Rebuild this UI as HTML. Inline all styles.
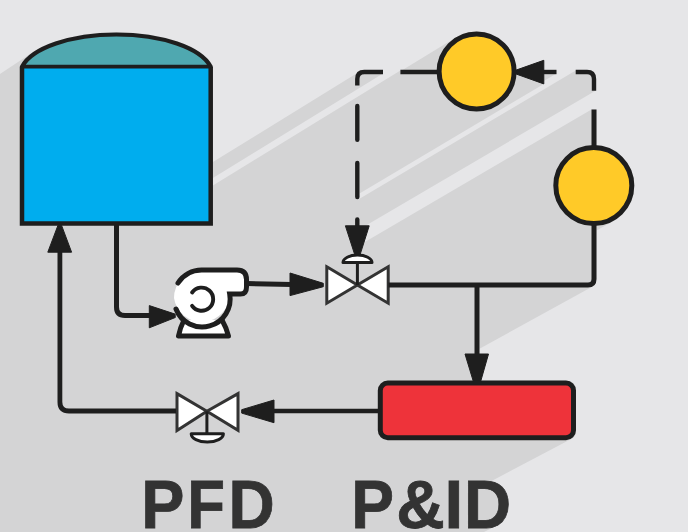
<!DOCTYPE html>
<html><head><meta charset="utf-8"><style>
html,body{margin:0;padding:0;width:688px;height:532px;overflow:hidden;background:#e6e6e8;}
svg{position:absolute;left:0;top:0;}
</style></head><body>
<svg width="688" height="532" viewBox="0 0 688 532">
<rect width="688" height="532" fill="#e6e6e8"/>
<path d="M120.5 32.3 L112.2 32.3 L108.1 32.4 L100.0 32.8 L91.9 33.6 L84.0 34.6 L76.3 35.9 L72.6 36.7 L65.4 38.4 L58.5 40.4 L52.0 42.6 L48.9 43.8 L43.1 46.3 L40.4 47.7 L37.8 49.1 L35.4 50.6 L33.1 52.1 L-5.0 77.3 L-5.0 537.0 L474.3 537.0 L490.0 528.9 L503.0 522.0 L508.8 505.0 L503.0 487.0 L491.1 481.2 L571.2 439.1 L572.7 438.2 L573.7 437.2 L574.5 436.2 L575.3 434.6 L575.8 433.0 L576.0 431.6 L576.0 389.5 L575.9 388.2 L575.6 386.9 L575.1 385.7 L574.5 384.5 L573.4 383.1 L572.0 382.0 L570.8 381.4 L569.2 380.8 L567.9 380.5 L480.9 380.5 L488.5 354.0 L479.5 354.0 L479.5 348.8 L592.6 286.5 L593.4 286.0 L594.1 285.4 L594.9 284.6 L595.6 283.5 L596.0 282.3 L596.3 281.2 L596.5 279.1 L596.5 230.5 L614.0 220.7 L616.3 219.3 L619.0 217.3 L622.0 214.7 L624.7 211.8 L627.1 208.6 L628.2 207.0 L629.5 204.7 L630.7 202.3 L631.5 200.5 L632.2 198.6 L632.9 196.1 L633.4 194.2 L633.9 191.5 L634.1 189.6 L634.3 186.9 L634.3 184.3 L634.1 181.6 L633.9 179.7 L633.4 177.0 L632.7 174.5 L632.2 172.6 L631.5 170.7 L630.4 168.3 L629.2 165.9 L627.8 163.7 L626.3 161.5 L624.7 159.4 L622.9 157.4 L621.0 155.6 L619.0 153.9 L616.8 152.3 L614.6 150.9 L612.3 149.6 L609.9 148.4 L607.4 147.5 L604.9 146.7 L602.4 146.0 L599.7 145.5 L596.5 145.2 L596.5 109.5 L591.5 109.5 L364.0 242.4 L369.2 225.8 L365.5 225.8 L595.5 90.7 L595.4 77.8 L595.3 76.5 L594.9 75.4 L594.6 74.4 L593.9 73.4 L593.2 72.6 L592.5 72.0 L591.7 71.5 L590.6 71.1 L589.4 70.7 L588.2 70.6 L587.0 70.5 L575.7 70.5 L359.5 198.8 L359.5 193.4 L543.8 83.9 L543.8 81.1 L556.5 73.5 L556.5 70.5 L543.8 70.5 L543.8 60.3 L516.6 70.0 L516.4 67.6 L516.1 65.0 L515.7 63.1 L515.1 60.5 L514.5 58.6 L513.6 56.2 L512.8 54.4 L511.6 52.1 L510.2 49.8 L509.1 48.2 L507.9 46.6 L506.2 44.6 L504.9 43.2 L503.0 41.4 L501.5 40.2 L499.4 38.6 L497.2 37.2 L494.9 35.9 L492.5 34.8 L490.7 34.1 L488.8 33.4 L486.3 32.7 L483.8 32.1 L481.8 31.8 L479.2 31.6 L477.3 31.5 L475.3 31.5 L472.7 31.7 L470.1 32.0 L468.2 32.4 L466.2 32.9 L463.7 33.6 L460.1 35.1 L456.6 36.9 L401.7 70.5 L400.4 70.5 L212.9 185.5 L212.9 178.0 L383.0 73.5 L383.0 70.5 L364.2 70.5 L363.0 70.6 L361.8 70.7 L360.7 71.1 L359.7 71.4 L212.9 162.1 L212.9 66.8 L212.9 66.3 L212.7 65.7 L211.6 63.8 L210.4 62.2 L209.0 60.3 L207.4 58.5 L205.7 56.9 L203.8 55.2 L201.8 53.6 L199.6 52.1 L197.4 50.6 L194.9 49.1 L192.3 47.7 L189.6 46.3 L183.8 43.8 L177.5 41.4 L170.8 39.3 L163.8 37.5 L160.1 36.7 L152.6 35.2 L144.8 34.1 L136.8 33.2 L128.7 32.6ZM32.6 52.4 L32.6 52.4 L32.6 52.4Z" fill="#d4d4d5" fill-rule="evenodd"/>
<path d="M22 66.8 A96.67 41.30 0 0 1 210.7 66.8 Z" fill="#4fa8b0" stroke="#1e1e1e" stroke-width="4.2" stroke-linejoin="round"/>
<rect x="22" y="66.8" width="188.7" height="156.7" fill="#00adee"/>
<path d="M22 66.8 L22 223.5 L210.7 223.5 L210.7 66.8" fill="none" stroke="#1e1e1e" stroke-width="4.5" stroke-linejoin="miter"/>
<path d="M22 66.8 L210.7 66.8" fill="none" stroke="#1e1e1e" stroke-width="3.6"/>
<path d="M116.5 223.5 L116.5 307 Q116.5 315.5 125 315.5 L152 315.5" fill="none" stroke="#1e1e1e" stroke-width="5" stroke-linecap="butt" stroke-linejoin="round"/>
<path d="M149.3 305.6 L175.1 314.1 L175.3 317.5 L149.3 327.8 Z" fill="#1e1e1e" stroke="#1e1e1e" stroke-width="1" stroke-linejoin="round"/>
<path d="M184 320 Q180 328 178.5 336 L228.5 336 Q226.5 328 222 320" fill="#fff" stroke="#1e1e1e" stroke-width="5" stroke-linejoin="round"/>
<path d="M174 298 A28 28 0 0 1 202 270 L237 270 Q246.5 270 246.5 279.5 L246.5 287 Q246.5 294 240.5 294 L229.7 294 A28 28 0 0 1 174 298 Z" fill="#fff" stroke="none"/>
<path d="M178 283 A28 28 0 0 1 202 270 L237 270 Q246.5 270 246.5 279.5 L246.5 287 Q246.5 294 240.5 294 L229.7 294 A28 28 0 0 1 176 309" fill="none" stroke="#1e1e1e" stroke-width="5" stroke-linecap="round"/>
<path d="M192.1 292.5 A11.6 11.6 0 1 1 192.1 305.9" fill="none" stroke="#1e1e1e" stroke-width="3.9" stroke-linecap="round"/>
<path d="M247 283.5 L292 284.5" fill="none" stroke="#1e1e1e" stroke-width="5" stroke-linecap="butt" stroke-linejoin="round"/>
<path d="M290.0 273.0 L323.3 283.3 L323.3 286.7 L290.0 295.6 Z" fill="#1e1e1e" stroke="#1e1e1e" stroke-width="1" stroke-linejoin="round"/>
<path d="M326.8 266.8 L357.4 285 L326.8 303.2 Z" fill="#fff" stroke="#333" stroke-width="3" stroke-linejoin="miter"/>
<path d="M388.2 266.8 L357.4 285 L388.2 303.2 Z" fill="#fff" stroke="#333" stroke-width="3" stroke-linejoin="miter"/>
<path d="M357.4 285 L357.4 262" fill="none" stroke="#1e1e1e" stroke-width="3" stroke-linecap="butt" stroke-linejoin="round"/>
<path d="M343 262.5 A14.5 7.4 0 0 1 372 262.5 Z" fill="#fff" stroke="#1e1e1e" stroke-width="3" stroke-linejoin="round"/>
<path d="M357.3 105.9 L357.3 139.8" fill="none" stroke="#1e1e1e" stroke-width="4.4" stroke-linecap="round" stroke-linejoin="round"/>
<path d="M357.3 162.89999999999998 L357.3 197.10000000000002" fill="none" stroke="#1e1e1e" stroke-width="4.4" stroke-linecap="round" stroke-linejoin="round"/>
<path d="M357.3 219.5 L357.3 225.8" fill="none" stroke="#1e1e1e" stroke-width="4.4" stroke-linecap="round" stroke-linejoin="round"/>
<path d="M345.4 225.8 L354.7 254.6 L360.1 254.6 L369.2 225.8 Z" fill="#1e1e1e" stroke="#1e1e1e" stroke-width="1" stroke-linejoin="round"/>
<path d="M383 72 L364.3 72 Q357.3 72 357.3 79 L357.3 85.5" fill="none" stroke="#1e1e1e" stroke-width="4.4" stroke-linecap="butt" stroke-linejoin="round"/>
<path d="M400.4 72 L440 72" fill="none" stroke="#1e1e1e" stroke-width="4.4" stroke-linecap="butt" stroke-linejoin="round"/>
<path d="M541 72 L556.5 72" fill="none" stroke="#1e1e1e" stroke-width="4.4" stroke-linecap="butt" stroke-linejoin="round"/>
<path d="M543.8 60.3 L515.5 70.3 L515.5 73.8 L543.8 83.9 Z" fill="#1e1e1e" stroke="#1e1e1e" stroke-width="1" stroke-linejoin="round"/>
<path d="M575.7 72 L587 72 Q594 72 594 79 L594 90.7" fill="none" stroke="#1e1e1e" stroke-width="4.4" stroke-linecap="butt" stroke-linejoin="round"/>
<path d="M388.5 285 L588 285 Q594 285 594 279 L594 109.5" fill="none" stroke="#1e1e1e" stroke-width="5" stroke-linecap="butt" stroke-linejoin="round"/>
<path d="M477 285 L477 357" fill="none" stroke="#1e1e1e" stroke-width="5" stroke-linecap="butt" stroke-linejoin="round"/>
<path d="M465.0 354.0 L473.5 382.0 L480.5 382.0 L488.5 354.0 Z" fill="#1e1e1e" stroke="#1e1e1e" stroke-width="1" stroke-linejoin="round"/>
<circle cx="593.8" cy="185.6" r="38" fill="#ffca28" stroke="#1e1e1e" stroke-width="5"/>
<circle cx="476.6" cy="71.5" r="37.5" fill="#ffca28" stroke="#1e1e1e" stroke-width="5"/>
<rect x="380.3" y="383" width="193.2" height="54.7" rx="7.5" fill="#ee333a" stroke="#1e1e1e" stroke-width="5"/>
<path d="M380 411 L272 411" fill="none" stroke="#1e1e1e" stroke-width="4.6" stroke-linecap="butt" stroke-linejoin="round"/>
<path d="M274.0 400.0 L241.7 409.7 L241.7 413.1 L274.0 422.7 Z" fill="#1e1e1e" stroke="#1e1e1e" stroke-width="1" stroke-linejoin="round"/>
<path d="M177 393.6 L206.9 411.2 L177 430.4 Z" fill="#fff" stroke="#333" stroke-width="3" stroke-linejoin="miter"/>
<path d="M238 393.6 L206.9 411.2 L238 430.4 Z" fill="#fff" stroke="#333" stroke-width="3" stroke-linejoin="miter"/>
<path d="M206.9 411.4 L206.9 434" fill="none" stroke="#1e1e1e" stroke-width="3" stroke-linecap="butt" stroke-linejoin="round"/>
<path d="M191.2 433.8 L223.4 433.8 A16.1 8.3 0 0 1 191.2 433.8 Z" fill="#fff" stroke="#1e1e1e" stroke-width="3" stroke-linejoin="round"/>
<path d="M176 411 L69 411 Q59.9 411 59.9 402 L59.9 250" fill="none" stroke="#1e1e1e" stroke-width="4.8" stroke-linecap="butt" stroke-linejoin="round"/>
<path d="M47.8 252.2 L58.0 225.2 L61.5 225.2 L71.6 252.2 Z" fill="#1e1e1e" stroke="#1e1e1e" stroke-width="1" stroke-linejoin="round"/>
<text transform="translate(141.17 527.9) scale(0.9346 1)" font-family="Liberation Sans, sans-serif" font-weight="bold" font-size="69.2" fill="#333333" stroke="#333333" stroke-width="0.8">P</text>
<text transform="translate(187.17 527.9) scale(0.8916 1)" font-family="Liberation Sans, sans-serif" font-weight="bold" font-size="69.2" fill="#333333" stroke="#333333" stroke-width="0.8">F</text>
<text transform="translate(228.42 527.9) scale(0.9237 1)" font-family="Liberation Sans, sans-serif" font-weight="bold" font-size="69.2" fill="#333333" stroke="#333333" stroke-width="0.8">D</text>
<text transform="translate(351.21 527.9) scale(0.9269 1)" font-family="Liberation Sans, sans-serif" font-weight="bold" font-size="69.2" fill="#333333" stroke="#333333" stroke-width="0.8">P</text>
<text transform="translate(396.15 527.9) scale(0.9716 1)" font-family="Liberation Sans, sans-serif" font-weight="bold" font-size="69.2" fill="#333333" stroke="#333333" stroke-width="0.8">&amp;</text>
<text transform="translate(444.60 527.9) scale(0.9731 1)" font-family="Liberation Sans, sans-serif" font-weight="bold" font-size="69.2" fill="#333333" stroke="#333333" stroke-width="0.8">I</text>
<text transform="translate(464.04 527.9) scale(0.9425 1)" font-family="Liberation Sans, sans-serif" font-weight="bold" font-size="69.2" fill="#333333" stroke="#333333" stroke-width="0.8">D</text>
</svg>
</body></html>
